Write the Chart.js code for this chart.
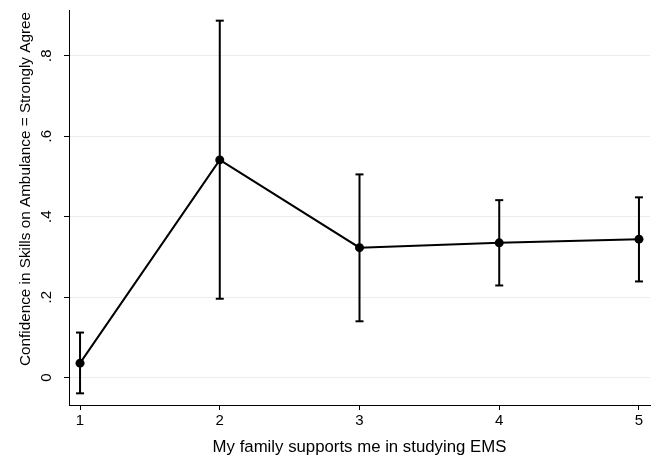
<!DOCTYPE html>
<html>
<head>
<meta charset="utf-8">
<script src="https://cdn.jsdelivr.net/npm/chart.js@4"></script>
<style>
  html, body { margin: 0; padding: 0; background: #fff; }
  #wrap { width: 662px; height: 457px; }
</style>
</head>
<body>
<div id="wrap"><canvas id="grafico"></canvas></div>
<script>
// valores
const categorias = [1, 2, 3, 4, 5];
const medias = [0.036, 0.541, 0.323, 0.335, 0.344];
const limiteInf = [-0.039, 0.196, 0.140, 0.229, 0.239];
const limiteSup = [0.112, 0.887, 0.505, 0.441, 0.448];
const yTicks = [0, 0.2, 0.4, 0.6, 0.8];
const yTickLabels = ['0', '.2', '.4', '.6', '.8'];

const fonte = '"Liberation Sans", Arial, Helvetica, sans-serif';
const tituloY = 'Confidence in Skills on Ambulance = Strongly Agree';

// barras de erro: segmentos verticais separados por null
const barras = [];
categorias.forEach((c, i) => {
    barras.push({ x: c, y: limiteInf[i] });
    barras.push({ x: c, y: limiteSup[i] });
    barras.push({ x: c, y: null });
});

const pontos = categorias.map((c, i) => ({ x: c, y: medias[i] }));

// título do eixo y, um pouco acima do centro como no Stata
const tituloEixoY = {
    id: 'tituloEixoY',
    afterDraw(chart) {
        const ctx = chart.ctx;
        ctx.save();
        ctx.translate(26, 189);
        ctx.rotate(-Math.PI / 2);
        ctx.fillStyle = '#000';
        ctx.font = '15.3px ' + fonte;
        ctx.textAlign = 'center';
        ctx.textBaseline = 'middle';
        ctx.fillText(tituloY, 0, 0);
        ctx.restore();
    }
};

new Chart(document.getElementById('grafico'), {
    type: 'line',
    data: {
        datasets: [
            {
                data: pontos,
                borderColor: '#000',
                backgroundColor: '#000',
                borderWidth: 2,
                pointRadius: 4.5,
                pointBorderWidth: 0,
                order: 1
            },
            {
                data: barras,
                borderColor: '#000',
                backgroundColor: '#000',
                borderWidth: 2,
                spanGaps: false,
                pointStyle: 'line',
                pointRadius: 4,
                pointBorderWidth: 2,
                order: 2
            }
        ]
    },
    plugins: [tituloEixoY],
    options: {
        responsive: true,
        maintainAspectRatio: false,
        animation: false,
        layout: { padding: { top: 10, right: 12, left: 0, bottom: 0 } },
        plugins: {
            legend: { display: false },
            tooltip: { enabled: false }
        },
        scales: {
            x: {
                type: 'linear',
                min: 0.921,
                max: 5.079,
                afterBuildTicks: s => { s.ticks = categorias.map(v => ({ value: v })); },
                afterFit: s => { s.height = 52; s.paddingLeft = 0; s.paddingRight = 0; },
                border: { color: '#000', width: 1 },
                grid: { drawOnChartArea: false, tickColor: '#000', tickLength: 5 },
                ticks: {
                    color: '#000',
                    padding: 2,
                    maxRotation: 0,
                    font: { family: fonte, size: 15 },
                    callback: v => String(v)
                },
                title: {
                    display: true,
                    text: 'My family supports me in studying EMS',
                    color: '#000',
                    font: { family: fonte, size: 16.8 },
                    padding: { top: 2, bottom: 0 }
                }
            },
            y: {
                type: 'linear',
                min: -0.068,
                max: 0.9135,
                afterBuildTicks: s => { s.ticks = yTicks.map(v => ({ value: v })); },
                afterFit: s => { s.width = 69; s.paddingTop = 0; s.paddingBottom = 0; },
                border: { color: '#000', width: 1 },
                grid: { color: '#e6eef0', lineWidth: 1, tickColor: '#000', tickLength: 5 },
                ticks: {
                    color: '#000',
                    padding: 11,
                    crossAlign: 'center',
                    minRotation: 90,
                    maxRotation: 90,
                    font: { family: fonte, size: 15 },
                    callback: v => yTickLabels[yTicks.indexOf(v)]
                },
                title: { display: false }
            }
        }
    }
});
</script>
</body>
</html>
